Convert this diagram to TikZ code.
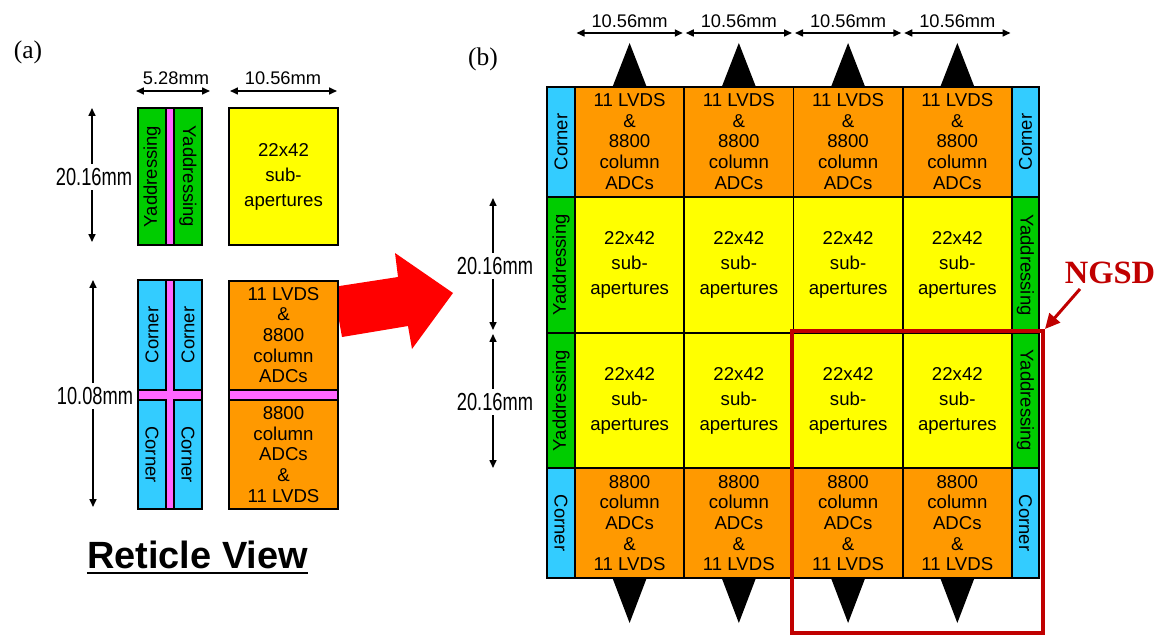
\documentclass[tikz,border=0pt]{standalone}
\usepackage{fontspec}
\usepackage{graphicx}
\setmainfont{Liberation Sans}
\newfontfamily\timesfont{Liberation Serif}
\usetikzlibrary{arrows.meta}

\definecolor{cornercyan}{HTML}{33CCFF}
\definecolor{adcorange}{HTML}{FF9900}
\definecolor{apyellow}{HTML}{FFFF00}
\definecolor{addrgreen}{HTML}{00CC00}
\definecolor{gappink}{HTML}{FF66FF}
\definecolor{ngsdred}{HTML}{C00000}

\begin{document}
\begin{tikzpicture}[x=0.02cm,y=-0.02cm]
\tikzset{
  cellbox/.style={draw=black,line width=1.1pt},
  cornercell/.style={cellbox,fill=cornercyan},
  adccell/.style={cellbox,fill=adcorange},
  apcell/.style={cellbox,fill=apyellow},
  addrcell/.style={cellbox,fill=addrgreen},
  gapcell/.style={cellbox,fill=gappink},
  celltext/.style={font=\fontsize{10.6}{11.75}\selectfont,align=center,inner sep=0pt},
  aptext/.style={font=\fontsize{10.6}{14.2}\selectfont,align=center,inner sep=0pt},
  sidetext/.style={font=\fontsize{10.5}{12}\selectfont,inner sep=0pt},
  dimline/.style={line width=0.9pt,{Triangle[length=1.6mm,width=1.4mm]}-{Triangle[length=1.6mm,width=1.4mm]}},
  dimtext/.style={font=\fontsize{10.4}{12}\selectfont,inner sep=0pt},
  talldim/.style={dimtext,fill=white,inner xsep=1pt,inner ysep=2.5pt},
  padtri/.style={fill=black},
  panellabel/.style={font=\timesfont\fontsize{14.5}{16}\selectfont,inner sep=0pt}
}
\useasboundingbox (0,0) rectangle (1161,635);

% (a) reticle view
\node[panellabel] (lbla) at (28,52) {(a)};
\fill[red] (333,287) -- (398,277) -- (395,253) -- (453,293) -- (412,349) -- (408,326) -- (342,337) -- cycle;

\draw[gapcell] (138,108) rectangle (202,245);
\draw[addrcell] (138,108) rectangle (166,245);
\draw[addrcell] (174,108) rectangle (202,245);
\node[sidetext,rotate=90] (ra_addl) at (152,176.5) {Yaddressing};
\node[sidetext,rotate=-90] (ra_addr) at (188,176.5) {Yaddressing};

\draw[apcell] (229,108) rectangle (338,245);
\node[aptext] (ra_ap) at (283.5,176.5) {22x42\\sub-\\apertures};

\draw[gapcell] (138,280) rectangle (202,509);
\draw[cornercell] (138,280) rectangle (166,390);
\draw[cornercell] (174,280) rectangle (202,390);
\draw[cornercell] (138,400) rectangle (166,509);
\draw[cornercell] (174,400) rectangle (202,509);
\node[sidetext,rotate=90] (ra_c1) at (152,335) {Corner};
\node[sidetext,rotate=90] (ra_c2) at (188,335) {Corner};
\node[sidetext,rotate=-90] (ra_c3) at (152,454.5) {Corner};
\node[sidetext,rotate=-90] (ra_c4) at (188,454.5) {Corner};

\draw[gapcell] (229,281) rectangle (338,509);
\draw[adccell] (229,281) rectangle (338,390);
\draw[adccell] (229,400) rectangle (338,509);
\node[celltext] (ra_adc1) at (283.5,335) {11 LVDS\\\&\\8800\\column\\ADCs};
\node[celltext] (ra_adc2) at (283.5,454.5) {8800\\column\\ADCs\\\&\\11 LVDS};

\draw[dimline] (136,91) -- (210,91);
\node[dimtext] (ra_w1) at (176,78) {5.28mm};
\draw[dimline] (230,91) -- (337,91);
\node[dimtext] (ra_w2) at (283,78) {10.56mm};
\draw[dimline] (92,108) -- (92,242);
\node[talldim] (ra_h1) at (94,177) {\scalebox{1}[1.35]{20.16mm}};
\draw[dimline] (93,280) -- (93,507);
\node[talldim] (ra_h2) at (95,396) {\scalebox{1}[1.35]{10.08mm}};

\node[font=\bfseries\fontsize{21.6}{24}\selectfont,inner sep=0pt,anchor=base] (rv) at (197.5,568) {Reticle View};
\draw[line width=1.2pt] ([yshift=-2.9pt]rv.base west) -- ([yshift=-2.9pt]rv.base east);

% (b) full sensor
\node[panellabel] (lblb) at (483,59) {(b)};

\foreach \i in {0,...,3}{
  \pgfmathsetmacro\xl{575+109.25*\i}
  \pgfmathsetmacro\xr{\xl+109.25}
  \pgfmathsetmacro\xc{\xl+54.6}
  \fill[padtri] (\xc,43) -- (\xc-17.5,88) -- (\xc+17.5,88) -- cycle;
  \fill[padtri] (\xc,623) -- (\xc-17.5,577) -- (\xc+17.5,577) -- cycle;
  \draw[adccell] (\xl,87) rectangle (\xr,197);
  \draw[apcell] (\xl,197) rectangle (\xr,333);
  \draw[apcell] (\xl,333) rectangle (\xr,468);
  \draw[adccell] (\xl,468) rectangle (\xr,578);
  \node[celltext] (top\i) at (\xc,141.5) {11 LVDS\\\&\\8800\\column\\ADCs};
  \node[aptext] (apa\i) at (\xc,265) {22x42\\sub-\\apertures};
  \node[aptext] (apb\i) at (\xc,400.5) {22x42\\sub-\\apertures};
  \node[celltext] (bot\i) at (\xc,523) {8800\\column\\ADCs\\\&\\11 LVDS};
  \draw[dimline] (\xl+1.5,33) -- (\xr-1.5,33);
  \node[dimtext] (w\i) at (\xc,21.5) {10.56mm};
}

\draw[cornercell] (547,87) rectangle (575,197);
\draw[addrcell] (547,197) rectangle (575,333);
\draw[addrcell] (547,333) rectangle (575,468);
\draw[cornercell] (547,468) rectangle (575,578);
\draw[cornercell] (1012,87) rectangle (1039,197);
\draw[addrcell] (1012,197) rectangle (1039,333);
\draw[addrcell] (1012,333) rectangle (1039,468);
\draw[cornercell] (1012,468) rectangle (1039,578);
\node[sidetext,rotate=90] (lc1) at (561,142) {Corner};
\node[sidetext,rotate=90] (la1) at (561,265) {Yaddressing};
\node[sidetext,rotate=90] (la2) at (561,400.5) {Yaddressing};
\node[sidetext,rotate=-90] (lc2) at (561,523) {Corner};
\node[sidetext,rotate=90] (rc1) at (1025.5,142) {Corner};
\node[sidetext,rotate=-90] (ra1) at (1025.5,265) {Yaddressing};
\node[sidetext,rotate=-90] (ra2) at (1025.5,400.5) {Yaddressing};
\node[sidetext,rotate=-90] (rc2) at (1025.5,523) {Corner};

\draw[dimline] (493,198) -- (493,330);
\node[talldim] (h1) at (495,266) {\scalebox{1}[1.35]{20.16mm}};
\draw[dimline] (493,334) -- (493,468);
\node[talldim] (h2) at (495,402) {\scalebox{1}[1.35]{20.16mm}};

% NGSD region
\draw[ngsdred,line width=2.3pt] (792,331) rectangle (1043,633);
\node[font=\timesfont\bfseries\fontsize{18.5}{20}\selectfont,text=ngsdred,inner sep=0pt] (ngsd) at (1110,273) {NGSD};
\coordinate (ngsdfrom) at (1080,289);
\coordinate (ngsdtip) at (1045,329);
\draw[ngsdred,line width=1.7pt,-{Triangle[length=3mm,width=2.8mm]}] (ngsdfrom) -- (ngsdtip);
\end{tikzpicture}
\end{document}
